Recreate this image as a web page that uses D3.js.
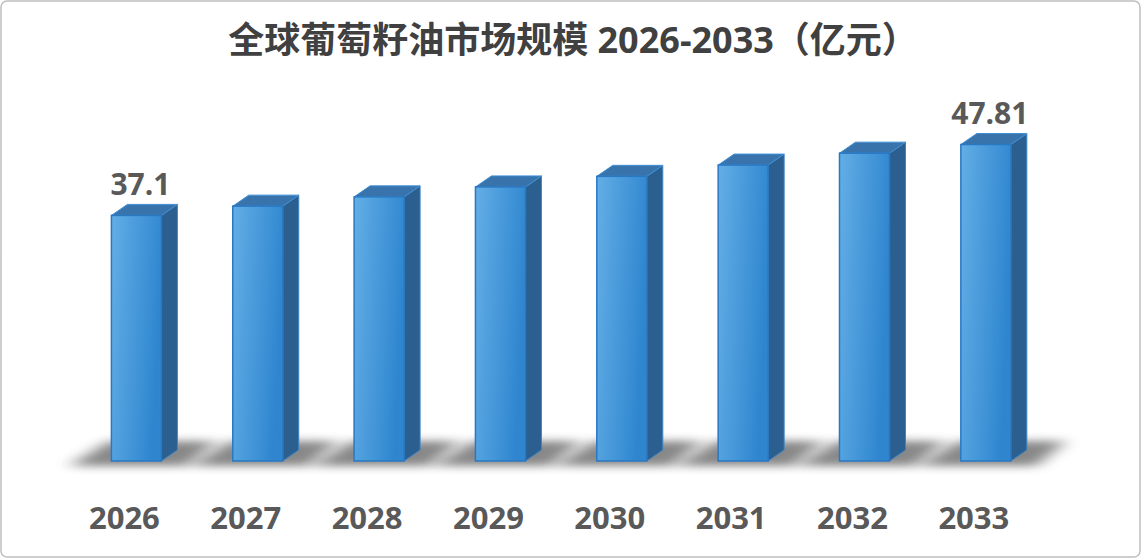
<!DOCTYPE html>
<html>
<head>
<meta charset="utf-8">
<script src="https://cdn.jsdelivr.net/npm/d3@7"></script>
<style>
  body { margin: 0; background: #fff; }
  text { font-family: "Open Sans", "Noto Sans CJK SC", sans-serif; }
</style>
</head>
<body>
<div id="chart"></div>
<script>
// data
var years = ["2026", "2027", "2028", "2029", "2030", "2031", "2032", "2033"];
var values = [37.1, 38.5, 39.9, 41.4, 43.0, 44.7, 46.5, 47.81];
var labelled = ["37.1", "", "", "", "", "", "", "47.81"];

var W = 1141, H = 558;
var baseY = 461, dx = 16, dy = 11, barW = 50;

var svg = d3.select("#chart").append("svg")
    .attr("width", W).attr("height", H);

var defs = svg.append("defs");
var front = defs.append("linearGradient").attr("id", "front")
    .attr("x1", "0").attr("y1", "0").attr("x2", "1").attr("y2", "0.3");
front.append("stop").attr("offset", "0").attr("stop-color", "#63aee6");
front.append("stop").attr("offset", "1").attr("stop-color", "#2f86cf");
var shadowBlur = defs.append("filter").attr("id", "blur")
    .attr("x", "-20%").attr("y", "-50%").attr("width", "140%").attr("height", "200%");
shadowBlur.append("feGaussianBlur").attr("stdDeviation", "9 4");

// outer frame
svg.append("rect").attr("x", 1).attr("y", 1).attr("width", W - 2).attr("height", H - 2)
    .attr("rx", 6).attr("fill", "#fff").attr("stroke", "#bfbfbf").attr("stroke-width", 1.5);

svg.append("text").attr("x", 573).attr("y", 53).attr("text-anchor", "middle")
    .attr("font-size", 36).attr("font-weight", "bold").attr("fill", "#404040")
    .text("全球葡萄籽油市场规模 2026-2033（亿元）");

var x = d3.scaleBand().domain(years).range([75, 1047]).paddingInner(0.59).paddingOuter(0.3);
var y = d3.scaleLinear().domain([0, 50]).range([baseY, baseY - 331]);

// floor shadows
svg.append("g").selectAll("polygon").data(years).join("polygon")
    .attr("points", function (d) {
        var l = x(d) - 20, r = x(d) + barW + 55;
        return [[l + 18, 441], [r, 441], [r - 30, 466], [l - 22, 466]].join(" ");
    })
    .attr("fill", "#555").attr("opacity", 0.7).attr("filter", "url(#blur)");

var bar = svg.append("g").selectAll("g").data(years).join("g");

// side face
bar.append("polygon")
    .attr("points", function (d, i) {
        var x0 = x(d) + barW, t = y(values[i]);
        return [[x0, t], [x0 + dx, t - dy], [x0 + dx, baseY - dy], [x0, baseY]].join(" ");
    })
    .attr("fill", "#2a5f8f").attr("stroke", "#3f86c6").attr("stroke-width", 1);

// top face
bar.append("polygon")
    .attr("points", function (d, i) {
        var x0 = x(d), t = y(values[i]);
        return [[x0, t], [x0 + dx, t - dy], [x0 + barW + dx, t - dy], [x0 + barW, t]].join(" ");
    })
    .attr("fill", "#3874ab").attr("stroke", "#3f8fd6").attr("stroke-width", 1);

// front face
bar.append("rect")
    .attr("x", function (d) { return x(d); })
    .attr("y", function (d, i) { return y(values[i]); })
    .attr("width", barW)
    .attr("height", function (d, i) { return baseY - y(values[i]); })
    .attr("fill", "url(#front)").attr("stroke", "#2a78c2").attr("stroke-width", 1.5);

bar.append("text")
    .attr("x", function (d) { return x(d) + barW / 2 + 4; })
    .attr("y", function (d, i) { return y(values[i]) - 20; })
    .attr("text-anchor", "middle").attr("font-size", 30).attr("font-weight", "bold")
    .attr("fill", "#595959")
    .text(function (d, i) { return labelled[i]; });

bar.append("text")
    .attr("x", function (d) { return x(d) + barW / 2 - 12; })
    .attr("y", 529)
    .attr("text-anchor", "middle").attr("font-size", 31).attr("font-weight", "bold")
    .attr("fill", "#595959")
    .text(function (d) { return d; });
</script>
</body>
</html>
